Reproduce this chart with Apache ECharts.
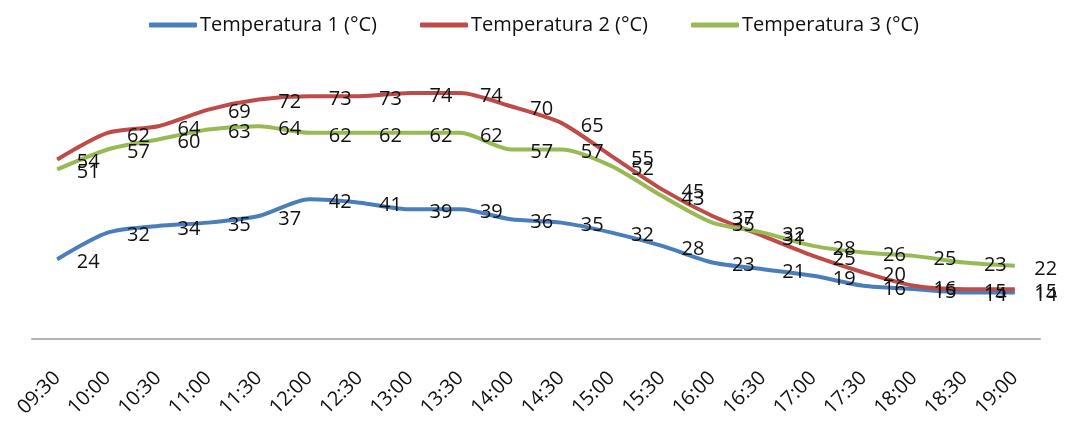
<!DOCTYPE html>
<html><head><meta charset="utf-8">
<script src="https://cdn.jsdelivr.net/npm/echarts@6/dist/echarts.min.js"></script>
<style>html,body{margin:0;padding:0;background:#fff}#c{width:1068px;height:423px}</style>
</head><body><div id="c"></div>
<script>
var categories = ["09:30","10:00","10:30","11:00","11:30","12:00","12:30","13:00","13:30","14:00","14:30","15:00","15:30","16:00","16:30","17:00","17:30","18:00","18:30","19:00"];
var temp1 = [24,32,34,35,37,42,41,39,39,36,35,32,28,23,21,19,16,15,14,14];
var temp2 = [54,62,64,69,72,73,73,74,74,70,65,55,45,37,31,25,20,16,15,15];
var temp3 = [51,57,60,63,64,62,62,62,62,57,57,52,43,35,32,28,26,25,23,22];
var seriesNames = ["Temperatura 1 (°C)","Temperatura 2 (°C)","Temperatura 3 (°C)"];
var colors = ["#4a7ebb","#be4b48","#98b954"];
var FONT = "'Open Sans', 'Noto Sans', sans-serif";
function mk(name, data, color){
  return {
    name: name, type: 'line', data: data, smooth: 0.25,
    symbol: 'circle', symbolSize: 1, showSymbol: true,
    itemStyle: {color: color},
    lineStyle: {color: color, width: 4},
    label: {show: true, position: 'right', distance: 19, offset: [0, 3], color: '#111', fontSize: 20, fontFamily: FONT},
    emphasis: {disabled: true}, animation: false
  };
}
var chart = echarts.init(document.getElementById('c'));
chart.setOption({
  animation: false,
  color: colors,
  legend: {
    top: 10, left: 'center', itemWidth: 48, itemHeight: 5, itemGap: 43,
    icon: 'roundRect',
    textStyle: {fontSize: 20, fontFamily: FONT, color: '#111', padding: [0,0,0,-2]},
    data: seriesNames
  },
  grid: {left: 32, right: 28, top: 73, bottom: 84},
  xAxis: {
    type: 'category', data: categories, boundaryGap: true,
    axisLine: {lineStyle: {color: '#b3b3b3', width: 2}},
    axisTick: {show: false},
    axisLabel: {rotate: 45, margin: 36, fontSize: 20, fontFamily: FONT, color: '#111', interval: 0}
  },
  yAxis: {type: 'value', min: 0, max: 80, show: false, splitLine: {show: false}},
  series: [mk(seriesNames[0], temp1, colors[0]), mk(seriesNames[1], temp2, colors[1]), mk(seriesNames[2], temp3, colors[2])]
});
</script></body></html>
